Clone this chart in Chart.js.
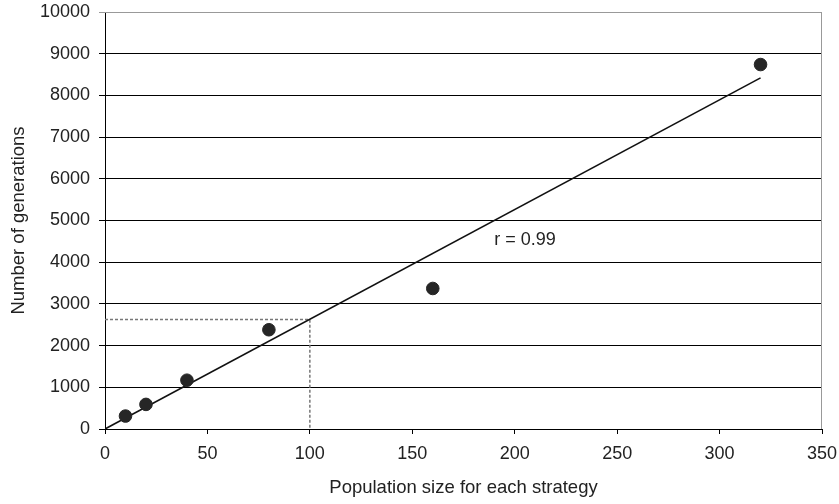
<!DOCTYPE html>
<html>
<head>
<meta charset="utf-8">
<script src="https://cdn.jsdelivr.net/npm/chart.js@4"></script>
<style>
  html, body { margin: 0; padding: 0; background: #fff; }
  #wrap { width: 839px; height: 504px; }
</style>
</head>
<body>
<div id="wrap"><canvas id="canvas" width="839" height="504"></canvas></div>
<script>
// population size per strategy and generations needed
let popSizes = [10, 20, 40, 80, 160, 320];
let generations = [310, 590, 1170, 2380, 3370, 8740];

// fitted line ends and the read-off guide at x = 100
let fitX = [0, 320];
let fitY = [0, 8420];
let guideX = [0, 100, 100];
let guideY = [2625, 2625, 0];

let xTicks = [0, 50, 100, 150, 200, 250, 300, 350];
let yTicks = [0, 1000, 2000, 3000, 4000, 5000, 6000, 7000, 8000, 9000, 10000];

let rLabel = 'r = 0.99';
let rLabelAt = [205, 4530];

let toPoints = (xs, ys) => xs.map((x, i) => ({ x: x, y: ys[i] }));

let font = { family: "'Liberation Sans', Arial, sans-serif", size: 18 };

let frame = {
    id: 'frame',
    beforeDatasetsDraw(chart) {
        let a = chart.chartArea;
        let c = chart.ctx;
        c.save();
        c.strokeStyle = '#999';
        c.lineWidth = 1;
        c.beginPath();
        c.moveTo(a.left, a.top + 0.5);
        c.lineTo(a.right - 0.5, a.top + 0.5);
        c.lineTo(a.right - 0.5, a.bottom);
        c.stroke();
        c.restore();
    },
    afterDatasetsDraw(chart) {
        let c = chart.ctx;
        let x = chart.scales.x.getPixelForValue(rLabelAt[0]);
        let y = chart.scales.y.getPixelForValue(rLabelAt[1]);
        c.save();
        c.font = '18px ' + font.family;
        c.fillStyle = '#222';
        c.textAlign = 'center';
        c.textBaseline = 'middle';
        c.fillText(rLabel, x, y);
        c.restore();
    }
};

let ctx = document.getElementById('canvas').getContext('2d');

let chart = new Chart(ctx, {
    type: 'scatter',
    data: {
        datasets: [{
            label: 'guide',
            type: 'line',
            data: toPoints(guideX, guideY),
            borderColor: '#777',
            borderWidth: 1.5,
            borderDash: [3, 2],
            pointRadius: 0,
            fill: false,
            order: 3
        }, {
            label: 'fit',
            type: 'line',
            data: toPoints(fitX, fitY),
            borderColor: '#111',
            borderWidth: 1.6,
            pointRadius: 0,
            fill: false,
            order: 2
        }, {
            label: 'generations',
            data: toPoints(popSizes, generations),
            backgroundColor: '#262626',
            borderColor: '#262626',
            pointRadius: 6.3,
            order: 1
        }]
    },
    options: {
        responsive: false,
        animation: false,
        layout: { padding: { left: 6, top: 12, right: 17, bottom: 4 } },
        plugins: {
            legend: { display: false },
            tooltip: { enabled: false }
        },
        scales: {
            x: {
                type: 'linear',
                min: 0,
                max: 350,
                afterBuildTicks: s => { s.ticks = xTicks.map(v => ({ value: v })); },
                afterFit: s => { s.height = 71; s.paddingLeft = 0; s.paddingRight = 0; },
                border: { color: '#000', width: 1 },
                grid: { drawOnChartArea: false, drawTicks: true, tickLength: 5, color: '#000' },
                ticks: { color: '#222', font: font, padding: 9, callback: v => String(v) },
                title: { display: true, text: 'Population size for each strategy', color: '#222', font: { family: font.family, size: 18.5 }, padding: { top: 4, bottom: 1 } }
            },
            y: {
                type: 'linear',
                min: 0,
                max: 10000,
                afterBuildTicks: s => { s.ticks = yTicks.map(v => ({ value: v })); },
                afterFit: s => { s.width = 99; s.paddingTop = 0; s.paddingBottom = 0; },
                border: { color: '#000', width: 1 },
                grid: {
                    color: c => c.tick && c.tick.value === 10000 ? '#999' : '#000',
                    tickLength: 6
                },
                ticks: { color: '#222', font: font, padding: 9, callback: v => String(v) },
                title: { display: true, text: 'Number of generations', color: '#222', font: { family: font.family, size: 18.5 }, padding: { top: 2, bottom: 4 } }
            }
        }
    },
    plugins: [frame]
});
</script>
</body>
</html>
